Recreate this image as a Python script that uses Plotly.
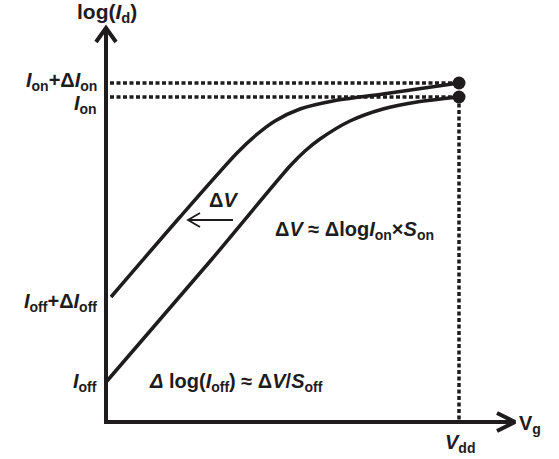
import plotly.graph_objects as go

# Transfer characteristics (arbitrary units: gate voltage vs log drain current)
vg_ref = [1, 106, 184, 199, 214, 244, 277, 311, 353]
logid_ref = [41, 163, 256, 271, 283, 301, 313, 320, 325]

vg_shift = [5, 74, 131, 149, 169, 194, 227, 277, 353]
logid_shift = [125, 205, 269, 286, 301, 313, 321, 328, 339]

# Characteristic levels and the supply voltage
level_names = ["<i>I</i><sub>on</sub>+Δ<i>I</i><sub>on</sub>", "<i>I</i><sub>on</sub>",
               "<i>I</i><sub>off</sub>+Δ<i>I</i><sub>off</sub>", "<i>I</i><sub>off</sub>"]
level_values = [339, 325, 125, 41]
vdd = 353
axis_x_max = 409
axis_y_max = 394
delta_v_arrow = [127, 82]
delta_v_level = 202

INK = "#1e1c1d"
FONT = dict(family="Liberation Sans, Arial, sans-serif", size=20, color=INK)

fig = go.Figure()

# Dotted guides at I_on and I_on+ΔI_on, and at V_dd
dots = "4px,2.5px"
for lv in level_values[:2]:
    fig.add_trace(go.Scatter(x=[4, vdd], y=[lv, lv], mode="lines",
                             line=dict(color=INK, width=3.5, dash=dots), hoverinfo="skip"))
fig.add_trace(go.Scatter(x=[vdd, vdd], y=[level_values[1], 0], mode="lines",
                         line=dict(color=INK, width=3.5, dash=dots), hoverinfo="skip"))

# Curves
for xs, ys in [(vg_ref, logid_ref), (vg_shift, logid_shift)]:
    fig.add_trace(go.Scatter(x=xs, y=ys, mode="lines",
                             line=dict(color=INK, width=3.5, shape="spline", smoothing=0.8),
                             hoverinfo="skip"))

# End points at V_dd
fig.add_trace(go.Scatter(x=[vdd, vdd], y=level_values[:2], mode="markers",
                         marker=dict(color=INK, size=13), hoverinfo="skip"))

# Axes with open arrow heads
fig.add_trace(go.Scatter(x=[0, 0, axis_x_max], y=[axis_y_max, 0, 0], mode="lines",
                         line=dict(color=INK, width=4), hoverinfo="skip"))
fig.add_trace(go.Scatter(x=[-10, 0, 10], y=[axis_y_max - 14, axis_y_max, axis_y_max - 14],
                         mode="lines", line=dict(color=INK, width=4), hoverinfo="skip"))
fig.add_trace(go.Scatter(x=[axis_x_max - 18, axis_x_max, axis_x_max - 18], y=[9, 0, -9],
                         mode="lines", line=dict(color=INK, width=4), hoverinfo="skip"))

# ΔV shift arrow
fig.add_trace(go.Scatter(x=delta_v_arrow, y=[delta_v_level] * 2, mode="lines",
                         line=dict(color=INK, width=1.8), hoverinfo="skip"))
fig.add_trace(go.Scatter(x=[delta_v_arrow[1] + 12, delta_v_arrow[1], delta_v_arrow[1] + 12],
                         y=[delta_v_level + 7, delta_v_level, delta_v_level - 7],
                         mode="lines", line=dict(color=INK, width=1.8), hoverinfo="skip"))

# Texts
label_y = [341, 318, 120, 40]
for name, ly in zip(level_names, label_y):
    fig.add_annotation(x=-8, y=ly, text="<b>" + name + "</b>", showarrow=False,
                       xanchor="right", yanchor="middle", font=FONT, borderpad=0)

texts = [
    (1, 409, "log(<i>I</i><sub>d</sub>)", "center", 21),
    (117, 222, "Δ<i>V</i>", "center", 20),
    (167, 192, "Δ<i>V</i> ≈ Δlog<i>I</i><sub>on</sub>×<i>S</i><sub>on</sub>", "left", 20),
    (41, 40, "<i>Δ</i> log(<i>I</i><sub>off</sub>) ≈ Δ<i>V</i>/<i>S</i><sub>off</sub>", "left", 20),
    (vdd + 1, -21, "<i>V</i><sub>dd</sub>", "center", 20),
    (411, -2, "V<sub>g</sub>", "left", 20),
]
for tx, ty, tt, anchor, fs in texts:
    fig.add_annotation(x=tx, y=ty, text="<b>" + tt + "</b>", showarrow=False,
                       xanchor=anchor, yanchor="middle", font=dict(FONT, size=fs))

fig.update_layout(
    width=559, height=459,
    margin=dict(l=0, r=0, t=0, b=0),
    paper_bgcolor="white", plot_bgcolor="white",
    showlegend=False,
    xaxis=dict(range=[-106, 453], visible=False, fixedrange=True),
    yaxis=dict(range=[-37, 422], visible=False, fixedrange=True),
)

fig.write_html("out.html")
